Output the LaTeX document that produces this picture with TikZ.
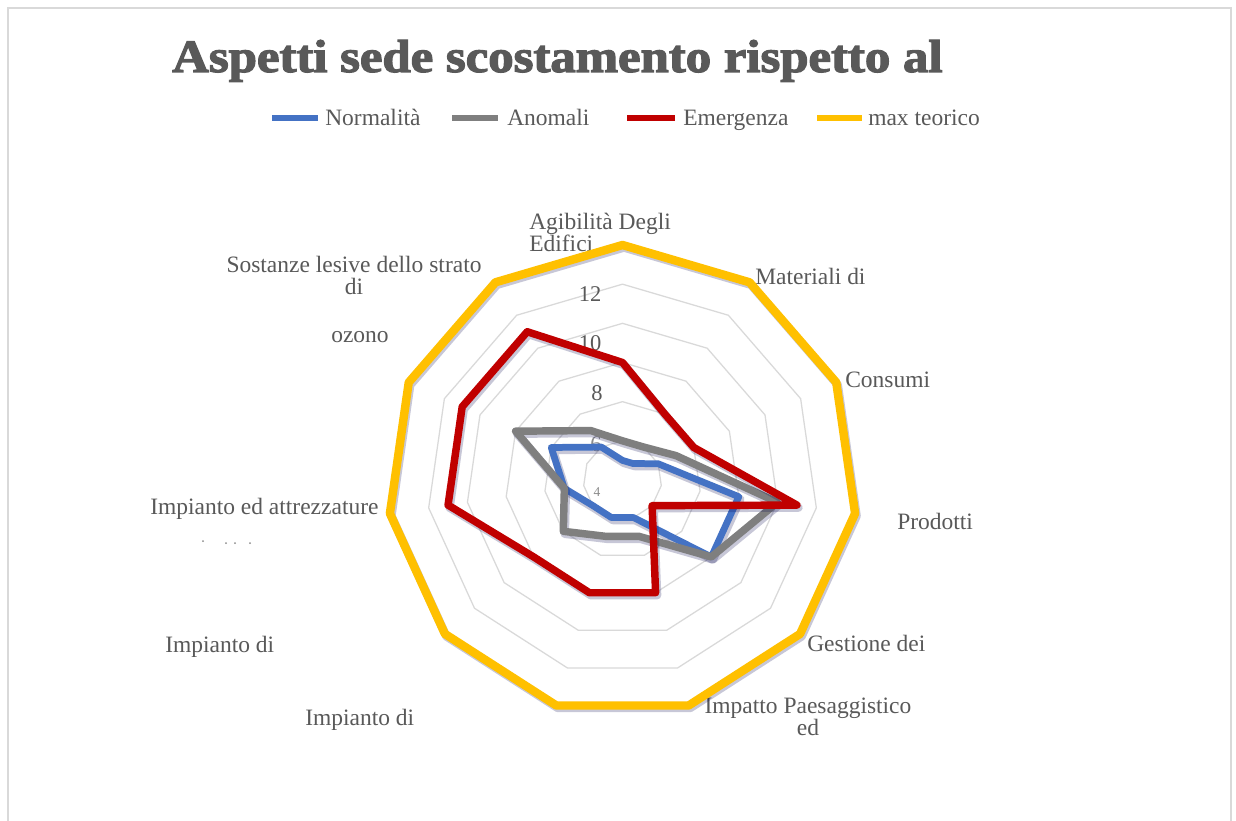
\documentclass[tikz,border=0pt]{standalone}
\usepackage{fontspec}
\setmainfont{Liberation Serif}
\newfontfamily\titlefont{Liberation Serif}[BoldFeatures={FakeBold=2.5}]

\definecolor{txtgray}{HTML}{595959}
\definecolor{gridgray}{HTML}{D9D9D9}
\definecolor{normblue}{HTML}{4472C4}
\definecolor{anomgray}{HTML}{7F7F7F}
\definecolor{emerred}{HTML}{C00000}
\definecolor{maxyellow}{HTML}{FFC000}

\tikzset{
    lbl/.style={text=txtgray, font=\fontsize{16.7}{15.5}\selectfont, inner sep=0pt},
    ringlbl/.style={text=txtgray, font=\fontsize{16}{16}\selectfont, inner sep=0pt},
    ring/.style={draw=gridgray, line width=0.9pt},
    shade/.style={draw=black!70!blue, opacity=0.22, line width=6pt, line join=round},
    normline/.style={draw=normblue, line width=4.8pt, line join=round},
    anomline/.style={draw=anomgray, line width=5.3pt, line join=round},
    emerline/.style={draw=emerred, line width=5.3pt, line join=round},
    maxline/.style={draw=maxyellow, line width=6pt, line join=round},
    legline/.style={line width=4.5pt},
}

\newcommand{\radarseries}[3]{%
    \foreach \val [count=\k from 0] in {#3}
        \coordinate (#1-\k) at ({\k*360/11-90}:{(\val-2)*235/12});
    \begin{scope}[transform canvas={shift={(1.5,2.5)}}]
        \draw[shade] (#1-0) \foreach \k in {1,...,10} { -- (#1-\k) } -- cycle;
    \end{scope}
    \draw[#2] (#1-0) \foreach \k in {1,...,10} { -- (#1-\k) } -- cycle;
}

\begin{document}
\begin{tikzpicture}[x=0.025cm, y=-0.025cm]

    \useasboundingbox (0,0) rectangle (1236,821);
    \fill[white] (0,0) rectangle (1236,821);
    \draw[gridgray, line width=1.4pt] (8,821) -- (8,8) -- (1231,8) -- (1231,821);

    \node[anchor=base west, inner sep=0pt, text=txtgray] (title) at (172,72)
        {\resizebox{19.25cm}{0.8cm}{\titlefont\bfseries Aspetti sede scostamento rispetto al}};

    % legend
    \coordinate (k-norm-a) at (272,118);
    \coordinate (k-norm-b) at (318,118);
    \coordinate (k-anom-a) at (452,118);
    \coordinate (k-anom-b) at (498,118);
    \coordinate (k-emer-a) at (627,118);
    \coordinate (k-emer-b) at (675,118);
    \coordinate (k-max-a) at (817,118);
    \coordinate (k-max-b) at (862,118);
    \draw[legline, normblue] (k-norm-a) -- (k-norm-b);
    \draw[legline, anomgray] (k-anom-a) -- (k-anom-b);
    \draw[legline, emerred] (k-emer-a) -- (k-emer-b);
    \draw[legline, maxyellow] (k-max-a) -- (k-max-b);
    \node[lbl, anchor=base west] (leg-norm) at (325,125.5) {Normalità};
    \node[lbl, anchor=base west] (leg-anom) at (507,125.5) {Anomali};
    \node[lbl, anchor=base west] (leg-emer) at (683,125.5) {Emergenza};
    \node[lbl, anchor=base west] (leg-max) at (868,125.5) {max teorico};

    % categories
    \node[lbl, anchor=west, align=left] (lab-agib) at (529,232.5) {Agibilità Degli\\Edifici};
    \node[lbl, anchor=base west] (lab-mat) at (755,284.5) {Materiali di};
    \node[lbl, anchor=base west] (lab-cons) at (845,387.5) {Consumi};
    \node[lbl, anchor=base west] (lab-prod) at (897,529.5) {Prodotti};
    \node[lbl, anchor=base west] (lab-gest) at (807,651.5) {Gestione dei};
    \node[lbl, align=center] (lab-impatto) at (808,716.5) {Impatto Paesaggistico\\ed};
    \node[lbl, anchor=base west] (lab-imp-a) at (305,725.5) {Impianto di};
    \node[lbl, anchor=base west] (lab-imp-b) at (165,652.5) {Impianto di};
    \node[lbl, anchor=base west] (lab-attr) at (150,514.5) {Impianto ed attrezzature};
    \node[lbl, align=center] (lab-sost) at (354,275.5) {Sostanze lesive dello strato\\di};
    \node[lbl, anchor=base] (lab-ozono) at (360,342) {ozono};
    \fill[txtgray!70] (203,541) circle (1) (226,543) circle (1) (235,543) circle (1) (250,543) circle (1);

    \begin{scope}[shift={(622.5,480)}]
        \foreach \val in {4,6,...,14} {
            \pgfmathsetmacro{\rr}{(\val-2)*235/12}
            \draw[ring] (-90:\rr) \foreach \k in {1,...,10} { -- ({\k*360/11-90}:\rr) } -- cycle;
        }
    \end{scope}

    \node[ringlbl] (tick-12) at (590,294) {12};
    \node[ringlbl] (tick-10) at (590,343) {10};
    \node[ringlbl] (tick-8) at (597,393) {8};
    \node[ringlbl, text=txtgray!70] (tick-6) at (596,444) {6};
    \node[ringlbl, text=txtgray!70, scale=0.6] (tick-4) at (597,492) {4};

    \begin{scope}[shift={(622.5,480)}]
        \radarseries{norm}{normline}{3,3,4,8,8,4,4,4,5,6,4}
        \radarseries{anom}{anomline}{4,4,5,10,8,5,5,6,5,8,5}
        \radarseries{emer}{emerline}{8,6,6,11,4,8,8,8,11,11,11}
        \radarseries{max}{maxline}{14,14,14,14,14,14,14,14,14,14,14}
    \end{scope}

\end{tikzpicture}
\end{document}
